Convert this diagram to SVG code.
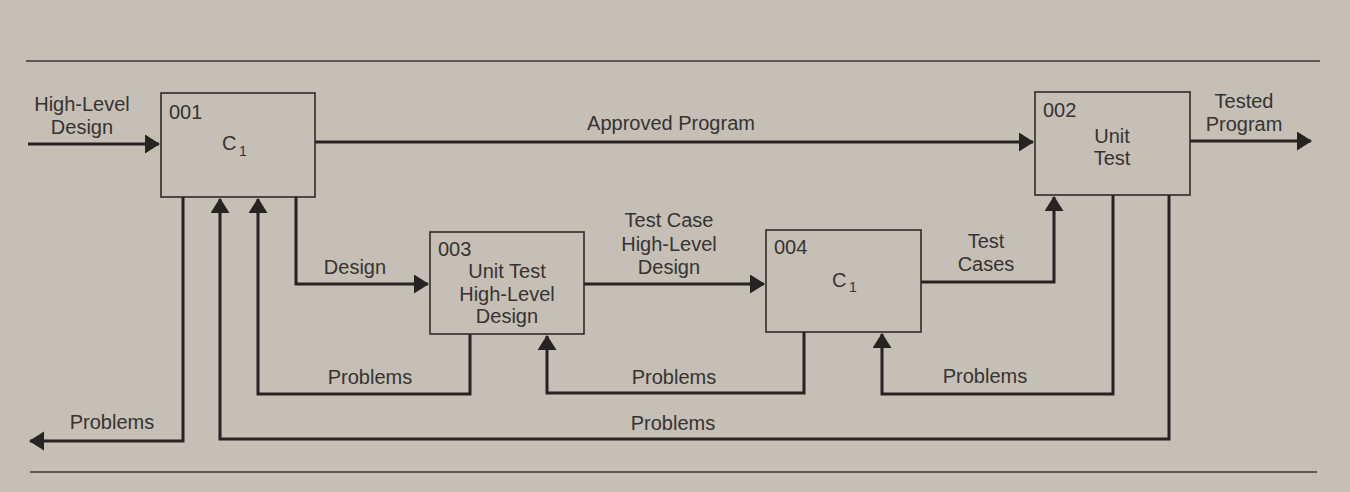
<svg xmlns="http://www.w3.org/2000/svg" width="1350" height="492" viewBox="0 0 1350 492">
<style>
  .bg{fill:#c5bfb5}
  .box{fill:none;stroke:#2e2b2a;stroke-width:1.6}
  .rule{stroke:#3a3736;stroke-width:1.3}
  .conn{fill:none;stroke:#262322;stroke-width:3;stroke-linejoin:miter}
  text{font-family:"Liberation Sans",Arial,sans-serif;font-size:20px;fill:#363333}
  .c{text-anchor:middle}
  .sub{font-size:14px}
</style>
<defs>
  <marker id="ah" markerUnits="userSpaceOnUse" markerWidth="15" markerHeight="20" refX="14" refY="9.5" orient="auto">
    <path d="M0,0 L15,9.5 L0,19 z" fill="#262322"/>
  </marker>
</defs>
<rect class="bg" x="0" y="0" width="1350" height="492"/>
<line class="rule" x1="26" y1="61" x2="1320" y2="61"/>
<line class="rule" x1="30" y1="472" x2="1317" y2="472"/>

<g id="connectors">
  <path class="conn" d="M28,144 L159,144" marker-end="url(#ah)"/>
  <path class="conn" d="M315,142 L1033,142" marker-end="url(#ah)"/>
  <path class="conn" d="M1190,141 L1311,141" marker-end="url(#ah)"/>
  <path class="conn" d="M296,197 L296,284 L428,284" marker-end="url(#ah)"/>
  <path class="conn" d="M584,284 L764,284" marker-end="url(#ah)"/>
  <path class="conn" d="M921,282 L1054,282 L1054,197" marker-end="url(#ah)"/>
  <path class="conn" d="M470,334 L470,394 L258,394 L258,199" marker-end="url(#ah)"/>
  <path class="conn" d="M804,332 L804,393 L547,393 L547,336" marker-end="url(#ah)"/>
  <path class="conn" d="M1113,195 L1113,394 L882,394 L882,334" marker-end="url(#ah)"/>
  <path class="conn" d="M1169,195 L1169,439 L220,439 L220,199" marker-end="url(#ah)"/>
  <path class="conn" d="M183,197 L183,441 L30,441" marker-end="url(#ah)"/>
</g>

<g id="labels">
  <text class="c" x="82" y="111">High-Level</text>
  <text class="c" x="82" y="134">Design</text>
  <text class="c" x="671" y="130">Approved Program</text>
  <text class="c" x="1244" y="108">Tested</text>
  <text class="c" x="1244" y="131">Program</text>
  <text class="c" x="355" y="274">Design</text>
  <text class="c" x="669" y="227">Test Case</text>
  <text class="c" x="669" y="251">High-Level</text>
  <text class="c" x="669" y="274">Design</text>
  <text class="c" x="986" y="248">Test</text>
  <text class="c" x="986" y="271">Cases</text>
  <text class="c" x="370" y="384">Problems</text>
  <text class="c" x="674" y="384">Problems</text>
  <text class="c" x="985" y="383">Problems</text>
  <text class="c" x="673" y="430">Problems</text>
  <text class="c" x="112" y="429">Problems</text>
</g>

<g id="node-001">
  <rect class="box" x="161" y="93" width="154" height="104"/>
  <text x="169" y="119">001</text>
  <text x="222" y="150">C</text>
  <text class="sub" x="239" y="156">1</text>
</g>
<g id="node-003">
  <rect class="box" x="430" y="232" width="154" height="102"/>
  <text x="438" y="256">003</text>
  <text class="c" x="507" y="278">Unit Test</text>
  <text class="c" x="507" y="301">High-Level</text>
  <text class="c" x="507" y="323">Design</text>
</g>
<g id="node-004">
  <rect class="box" x="766" y="230" width="155" height="102"/>
  <text x="774" y="254">004</text>
  <text x="832" y="287">C</text>
  <text class="sub" x="849" y="292">1</text>
</g>
<g id="node-002">
  <rect class="box" x="1035" y="92" width="155" height="103"/>
  <text x="1043" y="117">002</text>
  <text class="c" x="1112" y="143">Unit</text>
  <text class="c" x="1112" y="165">Test</text>
</g>
</svg>
